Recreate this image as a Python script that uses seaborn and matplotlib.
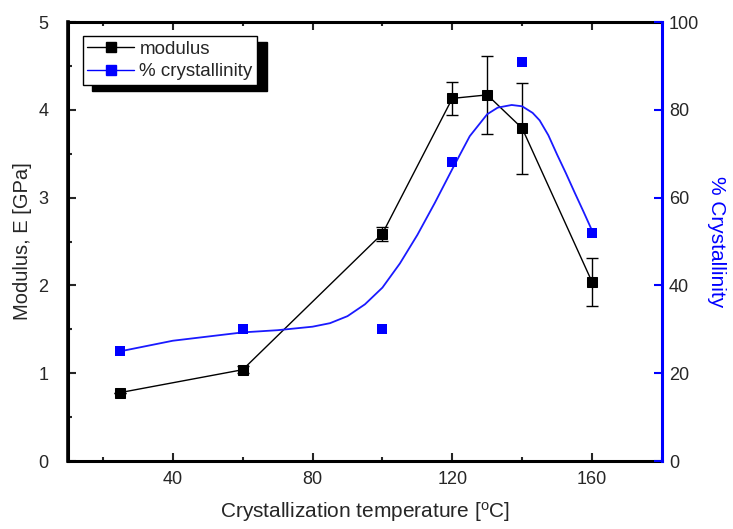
# module et cristallinité en fonction de la température de cristallisation
import numpy as np
import pandas as pd
import matplotlib
matplotlib.use("Agg")
import matplotlib.pyplot as plt
import seaborn as sns
from matplotlib.lines import Line2D
from matplotlib.ticker import MultipleLocator

# Données
temp_mod = [25, 60, 100, 120, 130, 140, 160]
modulus = [0.78, 1.04, 2.59, 4.13, 4.17, 3.79, 2.04]
modulus_err = [0.0, 0.04, 0.08, 0.19, 0.44, 0.52, 0.27]

temp_cry = [25, 60, 100, 120, 140, 160]
crystallinity = [25, 30, 30, 68, 91, 52]

fit_temp = [25, 40, 60, 70, 80, 85, 90, 95, 100, 105, 110, 115, 120, 125, 130,
            133, 137, 140, 143, 145, 147.5, 150, 152.5, 155, 157.5, 160]
fit_cry = [25, 27.4, 29.3, 29.8, 30.6, 31.4, 33.0, 35.7, 39.5, 45.0, 51.5, 58.8,
           66.5, 74.0, 79.0, 80.5, 81.1, 80.8, 79.3, 77.6, 74.2, 69.8, 65.6,
           61.2, 56.9, 52.5]

sns.set_style("ticks")
plt.rcParams['font.family'] = ['Liberation Sans', 'DejaVu Sans']

fig = plt.figure(figsize=(7.33, 5.29), dpi=100)
ax = fig.add_axes([0.0928, 0.1285, 0.8102, 0.8299])

df_mod = pd.DataFrame({"T": temp_mod, "E": modulus})
sns.lineplot(data=df_mod, x="T", y="E", ax=ax, color="black", lw=1,
             marker="s", markersize=7, markeredgecolor="black", zorder=3)
ax.errorbar(temp_mod, modulus, yerr=modulus_err, fmt="none", ecolor="black",
            elinewidth=1, capsize=4, capthick=1, zorder=2)

ax.set_xlim(10, 180)
ax.set_ylim(0, 5)
ax.set_xticks([40, 80, 120, 160])
ax.xaxis.set_minor_locator(MultipleLocator(20))
ax.yaxis.set_major_locator(MultipleLocator(1))
ax.yaxis.set_minor_locator(MultipleLocator(0.5))
ax.tick_params(which="both", direction="in", top=True, width=1.5, labelsize=13)
ax.tick_params(which="major", length=6)
ax.tick_params(which="minor", length=3)
ax.tick_params(axis="x", which="both", pad=7)
ax.tick_params(axis="y", which="both", left=True, right=False, pad=14)
ax.set_xlabel("Crystallization temperature [$\\mathregular{^{o}}$C]", fontsize=15, labelpad=9)
ax.set_ylabel("Modulus, E [GPa]", fontsize=14.5, labelpad=5)
for s in ["left", "bottom", "top"]:
    ax.spines[s].set_linewidth(2.2)
    ax.spines[s].set_color("black")
ax.spines["right"].set_visible(False)
# bord gauche (trait noir épais)
ax.plot([0, 0], [0, 1], transform=ax.transAxes, color="black", lw=2.6,
        clip_on=False, zorder=6, solid_capstyle="projecting")

ax2 = ax.twinx()
df_fit = pd.DataFrame({"T": fit_temp, "C": fit_cry})
sns.lineplot(data=df_fit, x="T", y="C", ax=ax2, color="#1a1aff", lw=1.3)
df_cry = pd.DataFrame({"T": temp_cry, "C": crystallinity})
sns.scatterplot(data=df_cry, x="T", y="C", ax=ax2, color="blue", marker="s",
                s=55, edgecolor="blue", linewidth=0, zorder=4)
ax2.set_ylim(0, 100)
ax2.yaxis.set_major_locator(MultipleLocator(20))
ax2.tick_params(axis="y", direction="in", color="blue", width=1.5, length=6,
                labelsize=13, pad=5)
ax2.set_ylabel("% Crystallinity", color="blue", fontsize=15, rotation=270,
               va="bottom", labelpad=6)
ax2.set_xlabel("")
ax2.spines["left"].set_visible(False)
ax2.spines["bottom"].set_visible(False)
ax2.spines["top"].set_visible(False)
ax2.spines["right"].set_color("blue")
ax2.spines["right"].set_linewidth(2.2)

handles = [
    Line2D([], [], color="black", lw=1, marker="s", markersize=7),
    Line2D([], [], color="blue", lw=1, marker="s", markersize=7),
]
leg = ax2.legend(handles, ["modulus", "% crystallinity"], loc="upper left",
                 bbox_to_anchor=(0.0247, 0.968), fontsize=13.5, frameon=True,
                 fancybox=False, framealpha=1,
                 shadow={"color": "black", "alpha": 1, "ox": 7, "oy": -4.2},
                 handlelength=2.5, handletextpad=0.27,
                 borderpad=0.25, labelspacing=0.28, borderaxespad=0)
leg.get_frame().set_edgecolor("black")
leg.get_frame().set_linewidth(1)

fig.savefig("out.png", dpi=100)
